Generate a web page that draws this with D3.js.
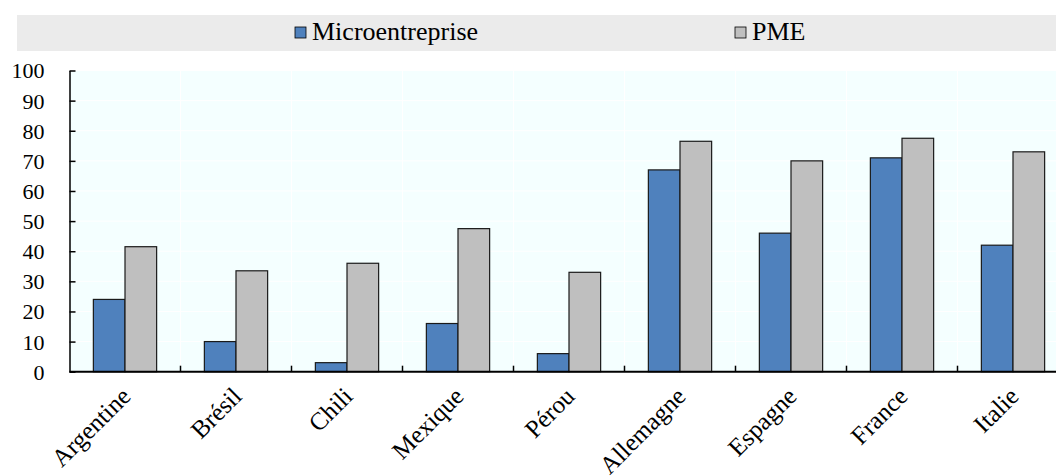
<!DOCTYPE html>
<html>
<head>
  <meta charset="utf-8">
  <style>
  body {
    margin: 0;
    background: #fff;
  }
  svg, svg text {
    font-family: "Liberation Serif", "DejaVu Serif", serif;
  }
  .axis .tick line {
    stroke: #000;
    stroke-width: 1.5px;
  }
  .axis text {
    font-size: 22px;
    fill: #000;
  }
  .x.axis text {
    font-size: 25px;
  }
  </style>
</head>
<body>
  <div id="chart"></div>
  <script src="https://d3js.org/d3.v7.min.js"></script>
  <script>
  var categories = ["Argentine", "Brésil", "Chili", "Mexique", "Pérou", "Allemagne", "Espagne", "France", "Italie"];
  var series = ["Microentreprise", "PME"];
  var micro = [24, 10, 3, 16, 6, 67, 46, 71, 42];
  var pme = [41.5, 33.5, 36, 47.5, 33, 76.5, 70, 77.5, 73];
  var yTicks = [0, 10, 20, 30, 40, 50, 60, 70, 80, 90, 100];
  var colors = ["#4f81bd", "#bfbfbf"];

  var data = categories.map(function(c, i){ return {cat: c, values: [micro[i], pme[i]]}; });

  var W = 1056, H = 476;
  var svg = d3.select("#chart").append("svg")
      .attr("width", W)
      .attr("height", H)
      .attr("font-family", "Liberation Serif, DejaVu Serif, serif");

  // plot area (the last group runs past the right edge, as in the source)
  var plotL = 69.5, plotR = 1068.5, plotT = 70.5, plotB = 371.7;

  var x = d3.scaleBand()
    .domain(categories)
    .range([plotL, plotR])
    .paddingInner(0.43)
    .paddingOuter(0.215);

  var x1 = d3.scaleBand()
    .domain([0, 1])
    .range([0, x.bandwidth()]);

  var y = d3.scaleLinear()
    .domain([0, 100])
    .range([plotB, plotT]);

  // legend band
  svg.append("rect")
      .attr("x", 17)
      .attr("y", 15)
      .attr("width", W - 17)
      .attr("height", 36)
      .style("fill", "#ebebeb");

  var legendX = [295, 735];
  var lg = svg.selectAll(".legend")
      .data(series)
    .enter().append("g")
      .attr("class", "legend")
      .attr("transform", function(d, i){ return "translate(" + legendX[i] + ",27)"; });
  lg.append("rect")
      .attr("width", 11)
      .attr("height", 11)
      .style("fill", function(d, i){ return colors[i]; })
      .style("stroke", "#000")
      .style("stroke-width", 0.8);
  lg.append("text")
      .attr("x", 17)
      .attr("y", 13)
      .style("font-size", "26px")
      .text(function(d){ return d; });

  // background
  svg.append("rect")
      .attr("x", plotL)
      .attr("y", plotT)
      .attr("width", plotR - plotL)
      .attr("height", plotB - plotT)
      .style("fill", "#f4ffff");

  // gridlines
  svg.append("g").selectAll("line")
      .data(yTicks.slice(1))
    .enter().append("line")
      .attr("x1", plotL)
      .attr("x2", plotR)
      .attr("y1", function(d){ return y(d); })
      .attr("y2", function(d){ return y(d); })
      .style("stroke", "#fff")
      .style("stroke-width", 1);

  var bounds = categories.slice(1).map(function(d){ return x(d) - x.step() * x.paddingInner() / 2; });

  svg.append("g").selectAll("line")
      .data(bounds)
    .enter().append("line")
      .attr("x1", function(d){ return d; })
      .attr("x2", function(d){ return d; })
      .attr("y1", plotT)
      .attr("y2", plotB)
      .style("stroke", "#fff")
      .style("stroke-width", 1);

  // bars
  var groups = svg.append("g").selectAll("g")
      .data(data)
    .enter().append("g")
      .attr("transform", function(d){ return "translate(" + x(d.cat) + ",0)"; });

  groups.selectAll("rect")
      .data(function(d){ return d.values; })
    .enter().append("rect")
      .attr("x", function(d, i){ return x1(i); })
      .attr("y", function(d){ return y(d); })
      .attr("width", x1.bandwidth())
      .attr("height", function(d){ return y(0) - y(d); })
      .style("fill", function(d, i){ return colors[i]; })
      .style("stroke", "#1a1a1a")
      .style("stroke-width", 1.2);

  // y axis, ticks pointing inward
  svg.append("g")
      .attr("class", "y axis")
      .attr("transform", "translate(" + plotL + ",0)")
      .call(d3.axisRight(y).tickValues(yTicks).tickSize(6).tickSizeOuter(0))
    .call(function(g){
      g.attr("font-family", null).attr("font-size", null);
      g.select(".domain").style("stroke", "#000").style("stroke-width", 1.5);
      g.selectAll("text")
        .attr("x", -25)
        .attr("dy", "0.34em")
        .style("text-anchor", "end");
    });

  // x axis with ticks at category boundaries
  var xg = svg.append("g")
      .attr("class", "x axis");
  xg.append("line")
      .attr("x1", plotL)
      .attr("x2", W)
      .attr("y1", plotB)
      .attr("y2", plotB)
      .style("stroke", "#000")
      .style("stroke-width", 2);
  xg.selectAll(".bt")
      .data(bounds)
    .enter().append("line")
      .attr("class", "bt")
      .attr("x1", function(d){ return d; })
      .attr("x2", function(d){ return d; })
      .attr("y1", plotB)
      .attr("y2", plotB - 6)
      .style("stroke", "#000")
      .style("stroke-width", 1.5);
  xg.selectAll("text")
      .data(categories)
    .enter().append("text")
      .attr("transform", function(d){
        return "translate(" + (x(d) + x.bandwidth() / 2 + 1) + "," + (plotB + 20) + ") rotate(-45)";
      })
      .attr("dy", "0.35em")
      .style("text-anchor", "end")
      .text(function(d){ return d; });
  </script>
</body>
</html>
